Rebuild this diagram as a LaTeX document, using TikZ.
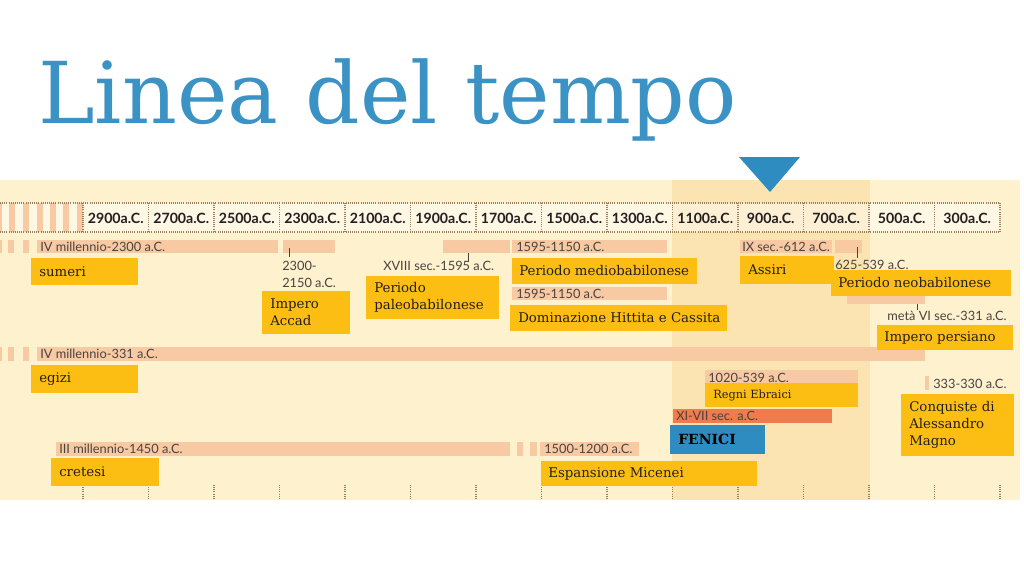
\documentclass[tikz,border=0pt]{standalone}
\usepackage{fontspec}
\setmainfont{DejaVu Serif}
\newfontfamily\datefont{Lato}
\definecolor{cream}{HTML}{FEF1CE}
\definecolor{creamdark}{HTML}{FCE3B2}
\definecolor{peach}{HTML}{F8CAA3}
\definecolor{gold}{HTML}{FDBE14}
\definecolor{fblue}{HTML}{2E8CC0}
\definecolor{forange}{HTML}{EE7C4C}
\definecolor{titleblue}{HTML}{3A93C4}
\definecolor{dotc}{HTML}{9C7F5A}
\definecolor{txt}{HTML}{231F20}
\definecolor{dtxt}{HTML}{4A4340}
\tikzset{
  lab/.style={font=\fontsize{10}{13}\selectfont, text=txt, inner sep=0pt, anchor=west, align=left},
  smalllab/.style={lab, font=\fontsize{8.5}{10}\selectfont},
  datet/.style={font=\datefont\fontsize{9.6}{12.5}\selectfont, text=dtxt, inner sep=0pt, anchor=west, align=left},
  headt/.style={font=\datefont\bfseries\fontsize{10.6}{12}\selectfont, text=txt, inner sep=0pt},
  dots/.style={draw=dotc, line width=0.9pt, dash pattern=on 0.6pt off 1.0pt},
  tick/.style={draw=dtxt, line width=0.6pt}
}
\begin{document}
\begin{tikzpicture}[x=0.75pt,y=-0.75pt]
\useasboundingbox (0,0) rectangle (1024,576);
\fill[white] (0,0) rectangle (1024,576);
% title
\node[anchor=base west, inner sep=0pt, text=titleblue, font=\fontsize{64}{70}\selectfont] (title) at (38,123) {Linea del tempo};
% panel
\fill[cream] (0,180) rectangle (1020,500);
\fill[creamdark] (672,180) rectangle (870,500);
% header row
\fill[white, opacity=0.45] (0,203) rectangle (1000,232);
\fill[peach] (0,203) rectangle (2,232);
\foreach \x in {9,23,37,50,63,77} \fill[peach] (\x,203) rectangle (\x+6,232);
\draw[dots] (0,203) -- (1000,203);
\draw[dots] (0,232) -- (1000,232);
\foreach \k in {0,...,14} {
  \draw[dots] ({83+65.5*\k},203) -- ({83+65.5*\k},232);
  \draw[dots] ({83+65.5*\k},485) -- ({83+65.5*\k},498);
}
\foreach \lab [count=\k from 0] in {2900,2700,2500,2300,2100,1900,1700,1500,1300,1100,900,700,500,300}
  \node[headt] (h\lab) at ({83+65.5*\k+32.75},218) {\lab a.C.};
% marker triangle
\fill[fblue] (739,157) -- (800,157) -- (770,192) -- cycle;
% ---- bars row 1
\fill[peach] (0,240) rectangle (2,253);
\fill[peach] (8,240) rectangle (14,253);
\fill[peach] (23,240) rectangle (29,253);
\fill[peach] (37,240) rectangle (278,253);
\fill[peach] (283,240) rectangle (335,253);
\fill[peach] (443,240) rectangle (510,253);
\fill[peach] (512,240) rectangle (667,253);
\fill[peach] (740,240) rectangle (832,253);
\fill[peach] (835,240) rectangle (862,253);
\fill[peach] (512,287) rectangle (667,300);
\fill[peach] (847,290) rectangle (925,304);
% ticks
\draw[tick] (289,248) -- (289,257);
\draw[tick] (468,253) -- (468,262);
\draw[tick] (857,247) -- (857,258);
\draw[tick] (917,304) -- (917,310);
% ---- row 2 (egizi)
\fill[peach] (0,347) rectangle (2,361);
\fill[peach] (8,347) rectangle (14,361);
\fill[peach] (23,347) rectangle (29,361);
\fill[peach] (37,347) rectangle (925,361);
% Ebraici, Fenici, Alessandro
\fill[peach] (705,370) rectangle (858,384);
\fill[forange] (673,409) rectangle (832,423);
\fill[peach] (925,376) rectangle (929,390);
% cretesi row
\fill[peach] (56,442) rectangle (510,456);
\fill[peach] (517,442) rectangle (523,456);
\fill[peach] (530,442) rectangle (537,456);
\fill[peach] (540,442) rectangle (639,456);
% ---- date texts
\node[datet] (d1) at (40,247) {IV millennio-2300 a.C.};
\node[datet] (d2) at (282,274.5) {2300-\\2150 a.C.};
\node[datet] (d3) at (383,266) {XVIII sec.-1595 a.C.};
\node[datet] (d4) at (516,247) {1595-1150 a.C.};
\node[datet] (d5) at (516,294) {1595-1150 a.C.};
\node[datet] (d6) at (742,247) {IX sec.-612 a.C.};
\node[datet] (d7) at (835,265) {625-539 a.C.};
\node[datet] (d8) at (887,316) {metà VI sec.-331 a.C.};
\node[datet] (d9) at (40,354) {IV millennio-331 a.C.};
\node[datet] (d10) at (708,378) {1020-539 a.C.};
\node[datet] (d11) at (676,416) {XI-VII sec. a.C.};
\node[datet] (d12) at (933,384) {333-330 a.C.};
\node[datet] (d13) at (59,449) {III millennio-1450 a.C.};
\node[datet] (d14) at (544,449) {1500-1200 a.C.};
% ---- label boxes
\fill[gold] (31,258) rectangle (138,285);
\node[lab] (sumeri) at (39,271.5) {sumeri};
\fill[gold] (262,291) rectangle (350,334);
\node[lab] (accad) at (270,312.5) {Impero\\Accad};
\fill[gold] (366,276) rectangle (499,319);
\node[lab] (paleo) at (374,297.5) {Periodo\\paleobabilonese};
\fill[gold] (512,258) rectangle (697,284);
\node[lab] (medio) at (519,271) {Periodo mediobabilonese};
\fill[gold] (510,305) rectangle (727,331);
\node[lab] (hitt) at (518,318) {Dominazione Hittita e Cassita};
\fill[gold] (740,256) rectangle (834,284);
\node[lab] (assiri) at (748,270) {Assiri};
\fill[gold] (831,270) rectangle (1011,296);
\node[lab] (neo) at (838,283) {Periodo neobabilonese};
\fill[gold] (877,325) rectangle (1013,350);
\node[lab] (pers) at (884,337.5) {Impero persiano};
\fill[gold] (31,365) rectangle (138,393);
\node[lab] (egizi) at (39,379) {egizi};
\fill[gold] (705,383) rectangle (858,407);
\node[smalllab] (ebr) at (713,395) {Regni Ebraici};
\fill[fblue] (670,425) rectangle (765,454);
\node[lab, font=\bfseries\fontsize{10.5}{13}\selectfont, text=black] (fenici) at (678,439.5) {FENICI};
\fill[gold] (901,394) rectangle (1014,456);
\node[lab] (aless) at (909,425) {Conquiste di\\Alessandro\\Magno};
\fill[gold] (51,458) rectangle (159,486);
\node[lab] (cretesi) at (59,472) {cretesi};
\fill[gold] (541,461) rectangle (757,486);
\node[lab] (mic) at (548,473.5) {Espansione Micenei};
\end{tikzpicture}
\end{document}
